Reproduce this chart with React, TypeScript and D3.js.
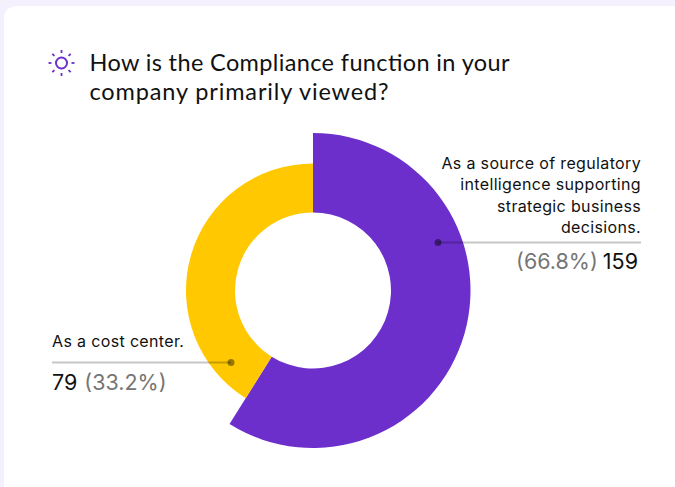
import React from 'react';
import * as d3 from 'd3';

const categories = ['As a source of regulatory intelligence supporting strategic business decisions.', 'As a cost center.'];
const counts = [159, 79];
const percents = ['66.8%', '33.2%'];
// sweep of each slice in degrees as drawn in the picture (not proportional to the counts)
const sweeps = [212, 148];
const purpleLines = ['As a source of regulatory', 'intelligence supporting', 'strategic business', 'decisions.'];
const titleLines = ['How is the Compliance function in your', 'company primarily viewed?'];
const titleWidths = [420, 299];
const colors = ['#6c2fcb', '#ffc800'];

const W = 675;
const H = 487;
const cx = 313;
const cy = 290.5;
const innerR = 78;
const outerR = [157.5, 127];

const pie = d3.pie<number>().sort(null).value(d => d);
const arcs = pie(sweeps);
const arc = d3.arc<d3.PieArcDatum<number>>();

const sans = 'Inter, sans-serif';

const SunIcon = () => {
    const rays = d3.range(8).map(i => (i * Math.PI) / 4);
    return (
        <g transform="translate(61.5,63)" stroke="#6c2fcb" strokeWidth={1.8} fill="none">
            <circle r={5.5} strokeWidth={2} />
            {rays.map((a, i) => (
                <line key={i} x1={Math.cos(a) * 10} y1={Math.sin(a) * 10} x2={Math.cos(a) * 13} y2={Math.sin(a) * 13} />
            ))}
        </g>
    );
};

export default function App() {
    return (
        <svg
            width={W}
            height={H}
            style={{ position: 'absolute', left: 0, top: 0 }}
            aria-label={categories.join(' / ')}
        >
            <rect width={W} height={H} fill="#f5f0fd" />
            <rect x={4} y={6} width={W + 20} height={H + 20} rx={12} fill="#fff" />
            <SunIcon />
            {titleLines.map((t, i) => (
                <text key={t} x={89.5} y={70.5 + i * 29} fontFamily="Lato, sans-serif" fontSize={23.5} textLength={titleWidths[i]} lengthAdjust="spacing" fill="#111">{t}</text>
            ))}
            <g transform={`translate(${cx},${cy})`}>
                {arcs.map((d, i) => (
                    <path key={i} fill={colors[i]} d={arc({ ...d, innerRadius: innerR, outerRadius: outerR[i] } as any) ?? ''} />
                ))}
            </g>

            <line x1={438} x2={641} y1={242.5} y2={242.5} stroke="#000" strokeOpacity={0.22} strokeWidth={2} />
            <circle cx={438} cy={242.5} r={3.5} fill="#000" fillOpacity={0.45} />
            {purpleLines.map((t, i) => (
                <text key={t} x={641} y={169 + i * 21.3} textAnchor="end" fontFamily={sans} fontSize={16} letterSpacing={0.35} fill="#111">{t}</text>
            ))}
            <text x={638} y={269} textAnchor="end" fontFamily={sans} fontSize={21.5} fill="#111">
                <tspan fill="#757575">({percents[0]})</tspan>
                <tspan dx={5}>{counts[0]}</tspan>
            </text>

            <line x1={52} x2={231} y1={362.5} y2={362.5} stroke="#000" strokeOpacity={0.22} strokeWidth={2} />
            <circle cx={231} cy={362.5} r={3.5} fill="#000" fillOpacity={0.4} />
            <text x={52} y={347} fontFamily={sans} fontSize={16} letterSpacing={0.35} fill="#111">{categories[1]}</text>
            <text x={52} y={389.5} fontFamily={sans} fontSize={21.5} fill="#111">
                <tspan>{counts[1]}</tspan>
                <tspan dx={7} fill="#757575">({percents[1]})</tspan>
            </text>
        </svg>
    );
}
